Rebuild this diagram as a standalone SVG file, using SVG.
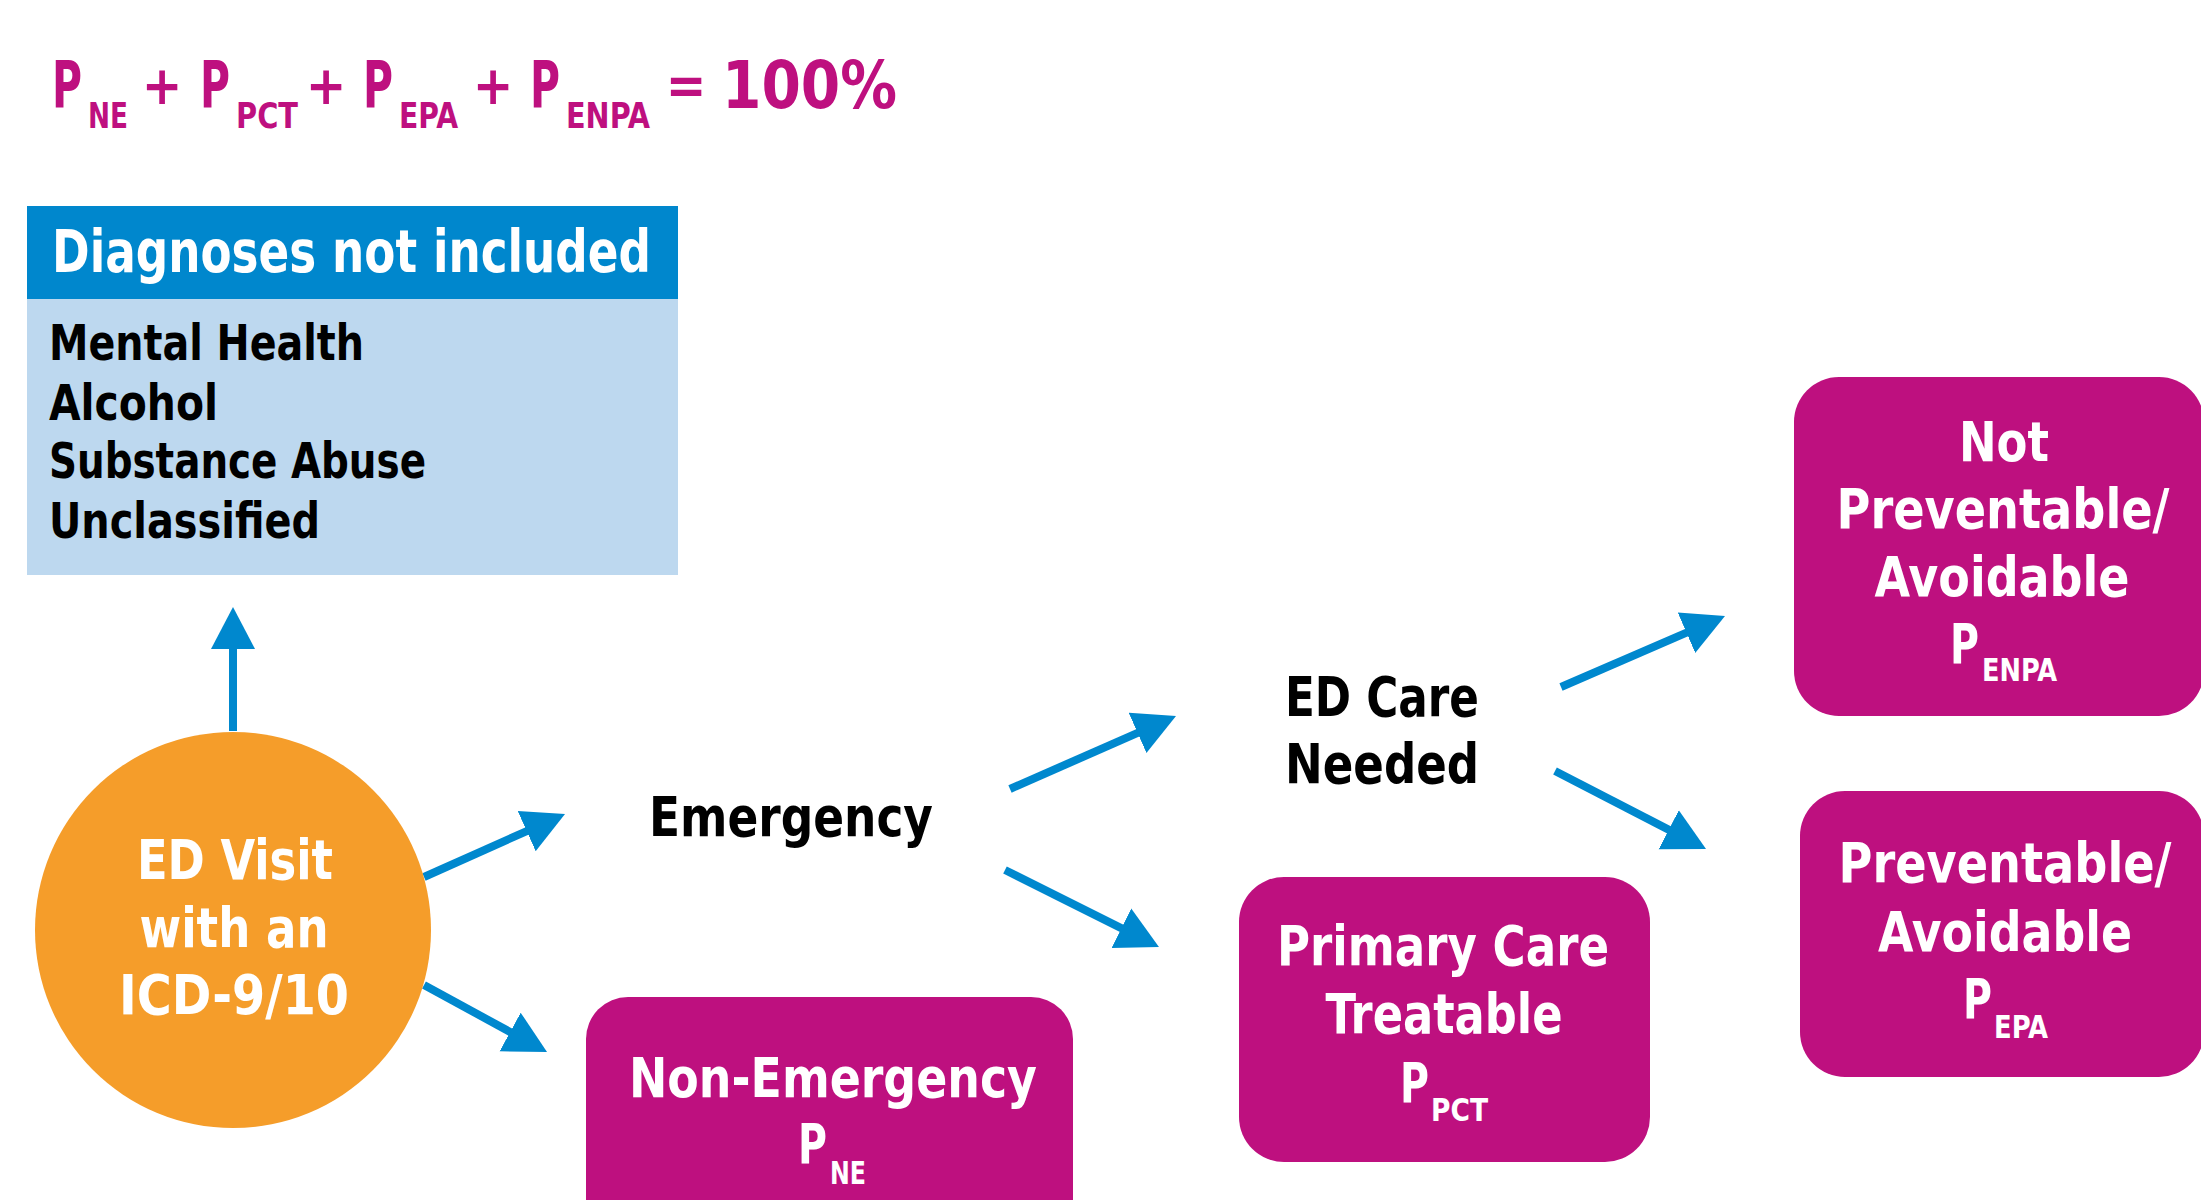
<svg xmlns="http://www.w3.org/2000/svg" width="2201" height="1200" viewBox="0 0 2201 1200">
  <defs>
    <marker id="head" viewBox="-2 -23 44 46" markerUnits="userSpaceOnUse" markerWidth="44" markerHeight="46" refX="0" refY="0" orient="auto">
      <path d="M-2,-22 L40,0 L-2,22 Z" fill="#0088CE"/>
    </marker>
  </defs>
  <style>
    text { font-family: "Liberation Sans Narrow", "DejaVu Sans Condensed", "Liberation Sans", sans-serif; font-weight: bold; }
    .box { fill: #BE107F; }
    .w { fill: #FFFFFF; font-size: 56px; text-anchor: middle; }
    .p { text-anchor: start; }
    .k { fill: #000000; font-size: 56px; }
    .sub { font-size: 32px; text-anchor: start; }
    .f { fill: #BE107F; font-size: 66px; }
    .op { fill: #BE107F; font-size: 54px; text-anchor: middle; }
    .fs { fill: #BE107F; font-size: 35px; }
    .list { fill: #000000; font-size: 49px; }
    .conn line { stroke: #0088CE; stroke-width: 8; marker-end: url(#head); }
  </style>
  <rect width="2201" height="1200" fill="#FFFFFF"/>

  <!-- share equation -->
  <g id="equation">
    <text class="f" x="52" y="108" textLength="30" lengthAdjust="spacingAndGlyphs">P</text>
    <text class="fs" x="88" y="128" textLength="40" lengthAdjust="spacingAndGlyphs">NE</text>
    <text class="op" x="162" y="104">+</text>
    <text class="f" x="200" y="108" textLength="30" lengthAdjust="spacingAndGlyphs">P</text>
    <text class="fs" x="236" y="128" textLength="62" lengthAdjust="spacingAndGlyphs">PCT</text>
    <text class="op" x="326" y="104">+</text>
    <text class="f" x="363" y="108" textLength="30" lengthAdjust="spacingAndGlyphs">P</text>
    <text class="fs" x="399" y="128" textLength="59" lengthAdjust="spacingAndGlyphs">EPA</text>
    <text class="op" x="493" y="104">+</text>
    <text class="f" x="530" y="108" textLength="30" lengthAdjust="spacingAndGlyphs">P</text>
    <text class="fs" x="566" y="128" textLength="84" lengthAdjust="spacingAndGlyphs">ENPA</text>
    <text class="op" x="686" y="104">=</text>
    <text class="f" x="722" y="108" textLength="175" lengthAdjust="spacingAndGlyphs">100%</text>
  </g>

  <!-- excluded diagnoses panel -->
  <g id="excluded">
    <rect x="27" y="206" width="651" height="369" fill="#BDD8EF"/>
    <rect x="27" y="206" width="651" height="93" fill="#0087CD"/>
    <text x="52" y="272" fill="#FFFFFF" font-size="58" textLength="599" lengthAdjust="spacingAndGlyphs">Diagnoses not included</text>
    <text class="list" x="49" y="360" textLength="315" lengthAdjust="spacingAndGlyphs">Mental Health</text>
    <text class="list" x="49" y="420" textLength="169" lengthAdjust="spacingAndGlyphs">Alcohol</text>
    <text class="list" x="49" y="478" textLength="377" lengthAdjust="spacingAndGlyphs">Substance Abuse</text>
    <text class="list" x="49" y="538" textLength="271" lengthAdjust="spacingAndGlyphs">Unclassified</text>
  </g>

  <!-- connectors -->
  <g id="connectors" class="conn">
    <line x1="233" y1="731" x2="233" y2="647"/>
    <line x1="424" y1="877" x2="528.5" y2="830.3"/>
    <line x1="424" y1="985" x2="511.9" y2="1032.9"/>
    <line x1="1010" y1="789" x2="1139.4" y2="732.1"/>
    <line x1="1005" y1="870" x2="1123.2" y2="929.1"/>
    <line x1="1561" y1="687" x2="1688.3" y2="631.9"/>
    <line x1="1555" y1="771" x2="1670.5" y2="830.6"/>
  </g>

  <!-- start node -->
  <g id="ed-visit">
    <circle cx="233" cy="930" r="198" fill="#F59D2A"/>
    <text class="w" x="235" y="879" textLength="196" lengthAdjust="spacingAndGlyphs">ED Visit</text>
    <text class="w" x="234" y="947" textLength="189" lengthAdjust="spacingAndGlyphs">with an</text>
    <text class="w" x="234" y="1014" textLength="230" lengthAdjust="spacingAndGlyphs">ICD-9/10</text>
  </g>

  <g id="emergency">
    <text class="k" x="649" y="836" textLength="284" lengthAdjust="spacingAndGlyphs">Emergency</text>
  </g>

  <g id="non-emergency">
    <rect class="box" x="586" y="997" width="487" height="260" rx="42" ry="42"/>
    <text class="w" x="833" y="1097" textLength="408" lengthAdjust="spacingAndGlyphs">Non-Emergency</text>
    <text class="w p" x="798" y="1163" textLength="29" lengthAdjust="spacingAndGlyphs">P</text>
    <text class="w sub" x="830" y="1184" textLength="36" lengthAdjust="spacingAndGlyphs">NE</text>
  </g>

  <g id="ed-care-needed">
    <text class="k" x="1285" y="716" textLength="194" lengthAdjust="spacingAndGlyphs">ED Care</text>
    <text class="k" x="1285" y="783" textLength="194" lengthAdjust="spacingAndGlyphs">Needed</text>
  </g>

  <g id="primary-care-treatable">
    <rect class="box" x="1239" y="877" width="411" height="285" rx="45" ry="45"/>
    <text class="w" x="1443" y="965" textLength="332" lengthAdjust="spacingAndGlyphs">Primary Care</text>
    <text class="w" x="1444" y="1033" textLength="237" lengthAdjust="spacingAndGlyphs">Treatable</text>
    <text class="w p" x="1400" y="1102" textLength="29" lengthAdjust="spacingAndGlyphs">P</text>
    <text class="w sub" x="1431" y="1121" textLength="57" lengthAdjust="spacingAndGlyphs">PCT</text>
  </g>

  <g id="not-preventable">
    <rect class="box" x="1794" y="377" width="410" height="339" rx="45" ry="45"/>
    <text class="w" x="2004" y="461" textLength="90" lengthAdjust="spacingAndGlyphs">Not</text>
    <text class="w" x="2003" y="528" textLength="333" lengthAdjust="spacingAndGlyphs">Preventable/</text>
    <text class="w" x="2002" y="596" textLength="255" lengthAdjust="spacingAndGlyphs">Avoidable</text>
    <text class="w p" x="1950" y="663" textLength="29" lengthAdjust="spacingAndGlyphs">P</text>
    <text class="w sub" x="1982" y="681" textLength="75" lengthAdjust="spacingAndGlyphs">ENPA</text>
  </g>

  <g id="preventable">
    <rect class="box" x="1800" y="791" width="404" height="286" rx="45" ry="45"/>
    <text class="w" x="2005" y="882" textLength="333" lengthAdjust="spacingAndGlyphs">Preventable/</text>
    <text class="w" x="2005" y="951" textLength="254" lengthAdjust="spacingAndGlyphs">Avoidable</text>
    <text class="w p" x="1963" y="1018" textLength="29" lengthAdjust="spacingAndGlyphs">P</text>
    <text class="w sub" x="1994" y="1038" textLength="54" lengthAdjust="spacingAndGlyphs">EPA</text>
  </g>
</svg>
